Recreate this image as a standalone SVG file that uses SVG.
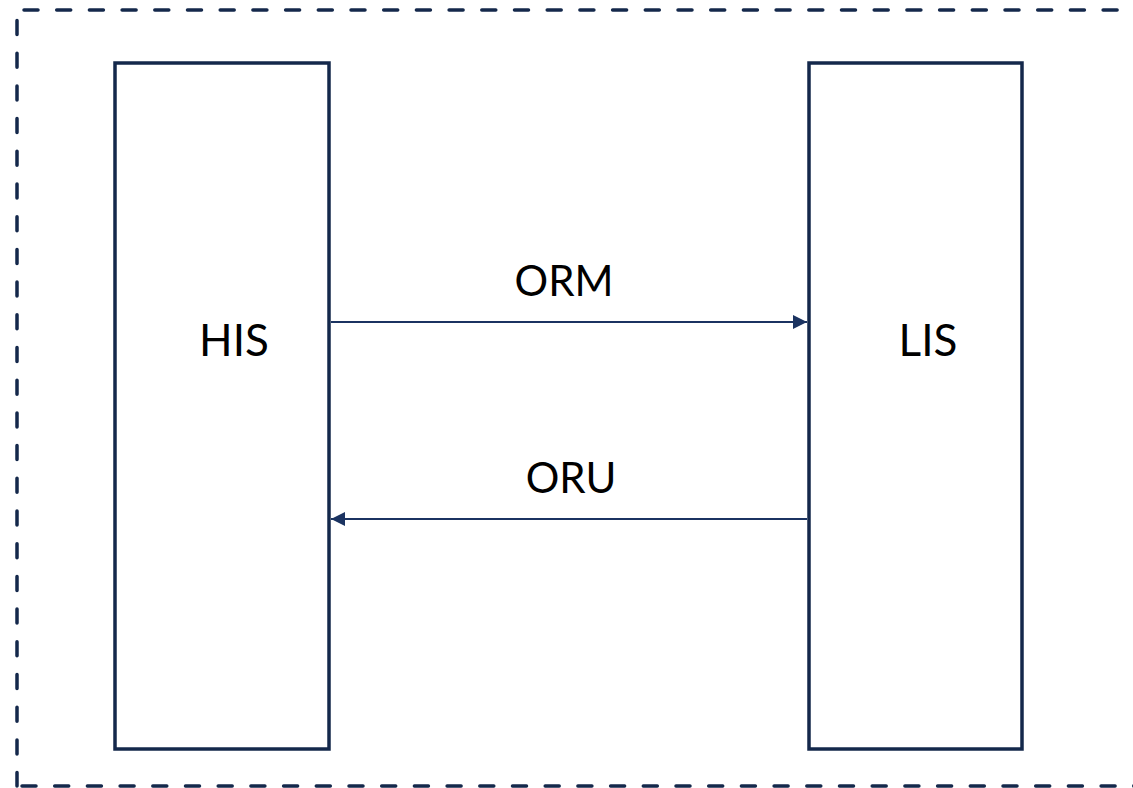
<svg xmlns="http://www.w3.org/2000/svg" width="1133" height="788" viewBox="0 0 1133 788">
<style>
.frame{fill:none;stroke:#14284b;stroke-width:3.5;stroke-linecap:round;stroke-dasharray:14 18.7}
.box{fill:#ffffff;stroke:#14284b;stroke-width:3.5}
.conn{fill:none;stroke:#1b3361;stroke-width:2}
.lbl{font-family:Lato,"Open Sans","Liberation Sans",sans-serif;font-size:42px;fill:#000000;text-anchor:middle}
.big{font-size:44px}
</style>
<defs>
<marker id="ah" markerWidth="14" markerHeight="14" viewBox="0 0 14 14" refX="14" refY="7" orient="auto" markerUnits="userSpaceOnUse">
<path d="M0,0 L14,7 L0,14 Z" fill="#1b3361"/>
</marker>
</defs>
<rect width="1133" height="788" fill="#ffffff"/>
<g id="frame">
<line class="frame" x1="24" y1="10" x2="1140" y2="10"/>
<line class="frame" x1="17" y1="20.5" x2="17" y2="786"/>
<line class="frame" x1="17" y1="786" x2="1140" y2="786" style="stroke-dashoffset:-5"/>
</g>
<g id="node-his">
<rect class="box" x="115" y="63" width="214" height="686"/>
<text class="lbl big" x="234" y="356">HIS</text>
</g>
<g id="node-lis">
<rect class="box" x="809" y="63" width="213" height="686"/>
<text class="lbl big" x="928" y="356">LIS</text>
</g>
<g id="connectors">
<line class="conn" x1="331" y1="322" x2="807" y2="322" marker-end="url(#ah)"/>
<line class="conn" x1="807" y1="519" x2="331" y2="519" marker-end="url(#ah)"/>
<text class="lbl" x="564" y="296">ORM</text>
<text class="lbl" x="571" y="493">ORU</text>
</g>
</svg>
